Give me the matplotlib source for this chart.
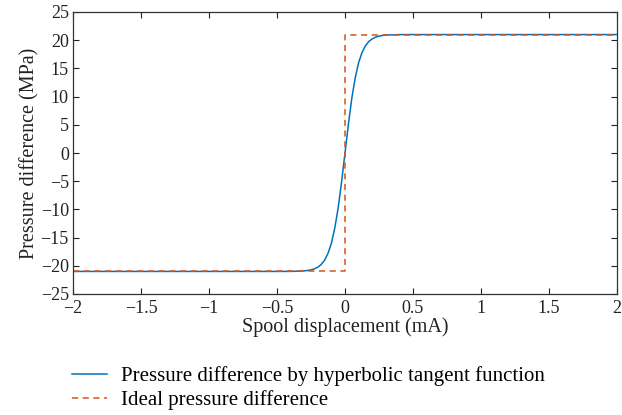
import numpy as np
import matplotlib
matplotlib.use('Agg')
import matplotlib.pyplot as plt

plt.rcParams.update({
    'font.family': ['Liberation Serif', 'DejaVu Serif'],
    'axes.unicode_minus': True,
})

BLUE = '#0072BD'
ORANGE = '#D95319'

# tanh curve
x_tanh = [-2.0, -0.5, -0.4, -0.35, -0.3, -0.275, -0.25, -0.225, -0.2, -0.175, -0.15,
          -0.125, -0.1, -0.075, -0.05, -0.025, 0.0, 0.025, 0.05, 0.075, 0.1, 0.125,
          0.15, 0.175, 0.2, 0.225, 0.25, 0.275, 0.3, 0.35, 0.4, 0.5, 2.0]
y_tanh = [-21.0, -21.0, -20.99, -20.96, -20.90, -20.83, -20.72, -20.54, -20.24, -19.77,
          -19.0, -17.8, -16.0, -13.3, -9.7, -5.1, 0.0, 5.1, 9.7, 13.3, 16.0, 17.8,
          19.0, 19.77, 20.24, 20.54, 20.72, 20.83, 20.90, 20.96, 20.99, 21.0, 21.0]

# ideal step
x_ideal = [-2.0, 0.0, 0.0, 2.0]
y_ideal = [-21.0, -21.0, 21.0, 21.0]

x_ticks = [-2, -1.5, -1, -0.5, 0, 0.5, 1, 1.5, 2]
y_ticks = [-25, -20, -15, -10, -5, 0, 5, 10, 15, 20, 25]


def fmt(v):
    s = f'{v:g}'
    return s.replace('-', '\u2212')


fig = plt.figure(figsize=(6.22, 4.15), dpi=100)
ax = fig.add_axes([73/622, 1 - 294/415, 544/622, 282/415])

l1, = ax.plot(x_tanh, y_tanh, color=BLUE, lw=1.1,
              label='Pressure difference by hyperbolic tangent function')
l2, = ax.plot(x_ideal, y_ideal, color=ORANGE, lw=1.1, ls=(0, (4, 3)),
              label='Ideal pressure difference')

ax.set_xlim(-2, 2)
ax.set_ylim(-25, 25)
ax.set_xticks(x_ticks)
ax.set_xticklabels([fmt(v) for v in x_ticks])
ax.set_yticks(y_ticks)
ax.set_yticklabels([fmt(v) for v in y_ticks])
ax.tick_params(direction='in', top=True, right=True, length=4, width=0.8,
               labelsize=13, colors='#222222')
ax.tick_params(axis='x', pad=4)
ax.tick_params(axis='y', pad=3)
for s in ax.spines.values():
    s.set_linewidth(0.9)
    s.set_color('#333333')

ax.set_xlabel('Spool displacement (mA)', fontsize=14.5, color='#222222', labelpad=0.5)
ax.set_ylabel('Pressure difference (MPa)', fontsize=14.5, color='#222222', labelpad=1)

fig.legend(handles=[l1, l2], loc='upper left', bbox_to_anchor=(72/622, 1 - 366/415),
           frameon=False, fontsize=15, handlelength=1.7, handletextpad=0.65,
           labelspacing=0.2, borderpad=0, borderaxespad=0)

fig.savefig('out.png', dpi=100)
